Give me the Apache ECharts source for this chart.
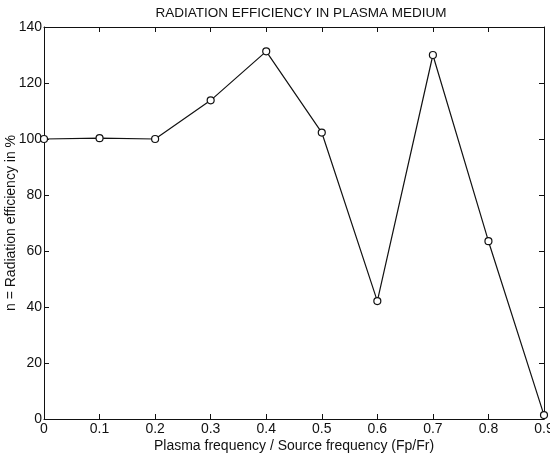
<!DOCTYPE html>
<html>
<head>
<meta charset="utf-8">
<script src="https://cdn.jsdelivr.net/npm/echarts@6/dist/echarts.min.js"></script>
<style>
  html, body { margin: 0; padding: 0; background: #fff; }
  #chart { width: 550px; height: 454px; }
</style>
</head>
<body>
<div id="chart"></div>
<script>
// Fp/Fr ratio and radiation efficiency (%)
const ratios = [0, 0.1, 0.2, 0.3, 0.4, 0.5, 0.6, 0.7, 0.8, 0.9]
const efficiency = [100, 100.3, 100, 113.8, 131.3, 102.3, 42.1, 130, 63.5, 1.4]

const chart = echarts.init(document.getElementById("chart"))
const font = "'Liberation Sans', Arial, sans-serif"
const ink = "#111"

const mirrorAxis = {
  axisLine: { show: true, onZero: false, lineStyle: { color: ink, width: 1 } },
  axisTick: { show: true, inside: true, length: 5, lineStyle: { color: ink } },
  axisLabel: { show: false },
  splitLine: { show: false }
}

chart.setOption({
  animation: false,
  title: {
    text: "RADIATION EFFICIENCY IN PLASMA MEDIUM",
    left: 296,
    textAlign: "center",
    top: 1,
    textStyle: { fontFamily: font, fontSize: 13.5, fontWeight: "normal", color: ink }
  },
  grid: { left: 44, right: 6, top: 27, bottom: 35, outerBoundsMode: "none", containLabel: false },
  xAxis: [
    {
      type: "value",
      min: 0,
      max: 0.9,
      interval: 0.1,
      name: "Plasma frequency / Source frequency (Fp/Fr)",
      nameLocation: "middle",
      nameGap: 20,
      nameMoveOverlap: false,
      nameTextStyle: { fontFamily: font, fontSize: 14, color: ink },
      axisLine: { show: true, onZero: false, lineStyle: { color: ink, width: 1 } },
      axisTick: { show: true, inside: true, length: 5, lineStyle: { color: ink } },
      axisLabel: {
        fontFamily: font, fontSize: 14, color: ink, margin: 3,
        formatter: v => String(Math.round(v * 10) / 10)
      },
      splitLine: { show: false }
    },
    Object.assign({ type: "value", min: 0, max: 0.9, interval: 0.1, position: "top" }, mirrorAxis)
  ],
  yAxis: [
    {
      type: "value",
      min: 0,
      max: 140,
      interval: 20,
      name: "n = Radiation efficiency in %",
      nameLocation: "middle",
      nameGap: 26,
      nameMoveOverlap: false,
      nameTextStyle: { fontFamily: font, fontSize: 14, color: ink },
      axisLine: { show: true, onZero: false, lineStyle: { color: ink, width: 1 } },
      axisTick: { show: true, inside: true, length: 5, lineStyle: { color: ink } },
      axisLabel: { fontFamily: font, fontSize: 14, color: ink, margin: 2 },
      splitLine: { show: false }
    },
    Object.assign({ type: "value", min: 0, max: 140, interval: 20, position: "right" }, mirrorAxis)
  ],
  series: [
    {
      type: "line",
      data: ratios.map((r, i) => [r, efficiency[i]]),
      symbol: "circle",
      symbolSize: 7,
      showSymbol: true,
      lineStyle: { color: ink, width: 1.2 },
      itemStyle: { color: "#fff", borderColor: ink, borderWidth: 1.2 },
      clip: false
    }
  ]
})
</script>
</body>
</html>
